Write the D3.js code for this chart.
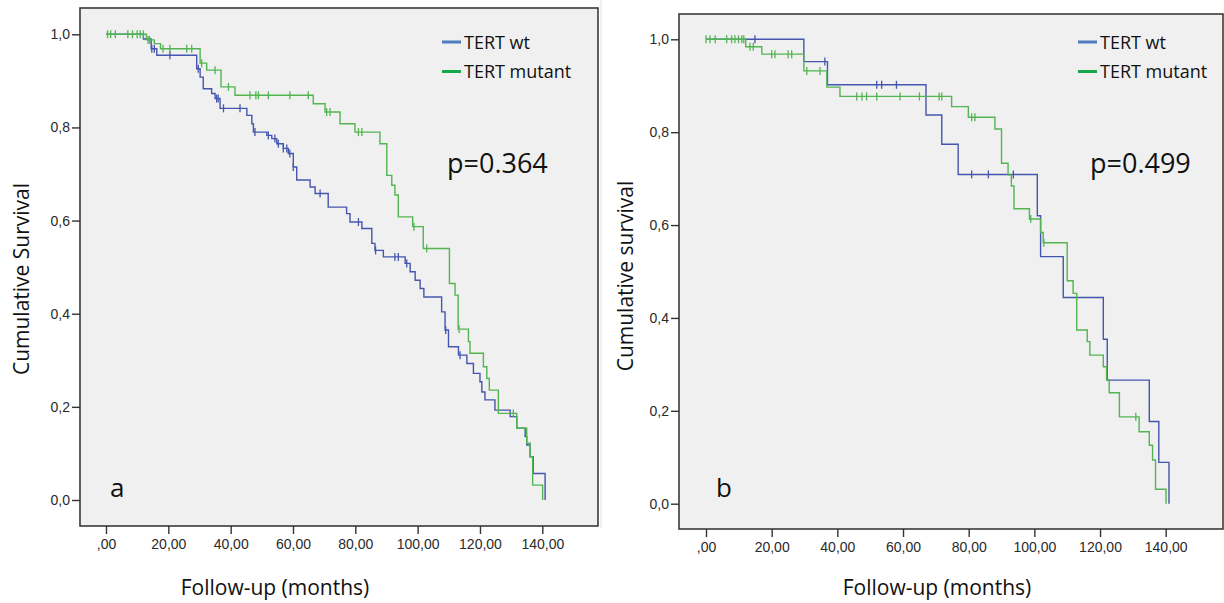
<!DOCTYPE html>
<html>
<head>
<meta charset="utf-8">
<script src="https://cdn.jsdelivr.net/npm/d3@7/dist/d3.min.js"></script>
<style>
  body { margin: 0; background: #fff; }
  svg text { font-family: "Open Sans", sans-serif; fill: #111; }
  .tick text { font-family: "Liberation Sans", Arial, sans-serif; font-size: 14px; fill: #2a2a2a; }
</style>
</head>
<body>
<svg id="sg"></svg>
<script>
// axis ticks
const timeTicks = [0, 20, 40, 60, 80, 100, 120, 140];
const timeTickLabels = [",00", "20,00", "40,00", "60,00", "80,00", "100,00", "120,00", "140,00"];
const survTicks = [0, 0.2, 0.4, 0.6, 0.8, 1.0];
const survTickLabels = ["0,0", "0,2", "0,4", "0,6", "0,8", "1,0"];
const seriesNames = ["TERT wt", "TERT mutant"];

// panel a - TERT wt (event times, survival after event, censored times)
const aWtTimes = [12, 14.5, 16.3, 29.1, 30.2, 31.2, 33.9, 35, 36.6, 45.2, 46.8, 47.3, 51.6, 53.2, 54.8, 56.9, 58.5, 60.1, 61.2, 65.5, 67.1, 71.3, 77.2, 78.3, 82.1, 85.3, 86.3, 89, 96, 97.6, 99.2, 100.8, 102, 107.7, 108.8, 109.9, 113.1, 115.8, 117.9, 120, 120.6, 121.6, 124.8, 129.7, 131.8, 134.5, 135, 136.1, 137.1, 140.9];
const aWtSurv = [0.99, 0.969, 0.955, 0.926, 0.908, 0.883, 0.873, 0.862, 0.841, 0.826, 0.808, 0.79, 0.783, 0.776, 0.765, 0.755, 0.744, 0.715, 0.687, 0.672, 0.658, 0.629, 0.615, 0.597, 0.583, 0.551, 0.536, 0.522, 0.508, 0.49, 0.472, 0.454, 0.436, 0.404, 0.365, 0.329, 0.311, 0.293, 0.272, 0.254, 0.232, 0.215, 0.193, 0.179, 0.154, 0.136, 0.118, 0.093, 0.057, 0];
const aWtCensored = [14.7, 15.5, 20.5, 29.6, 35.5, 36, 37.7, 43, 47.8, 52.1, 54.2, 55.3, 56.9, 58, 59, 60.1, 68.7, 81, 86.5, 92.7, 93.8, 96.5, 109, 113.6];

// panel a - TERT mutant
const aMutTimes = [13, 15.5, 17.5, 30.2, 32.3, 36.9, 41.4, 66.5, 70.3, 75.1, 79.9, 87.9, 90.1, 91.7, 92.7, 93.8, 98.4, 101.8, 110.2, 112, 113, 116.3, 116.8, 121.1, 122.2, 123, 125.9, 131.8, 135, 136.1, 136.9, 140.1];
const aMutSurv = [0.988, 0.98, 0.969, 0.938, 0.923, 0.887, 0.869, 0.851, 0.833, 0.808, 0.79, 0.765, 0.697, 0.676, 0.655, 0.608, 0.587, 0.54, 0.465, 0.44, 0.367, 0.34, 0.315, 0.286, 0.261, 0.236, 0.186, 0.154, 0.122, 0.093, 0.032, 0];
const aMutCensored = [0.5, 1.5, 3, 7, 8.5, 10, 11, 12, 13.5, 14, 18.3, 20.5, 25.9, 27.5, 30.7, 35, 39.3, 46.2, 48.1, 48.9, 52.1, 59, 64.9, 70.8, 71.9, 81, 82.1, 98.8, 102.9, 113.3, 130.7];

// panel b - TERT wt
const bWtTimes = [29.8, 37, 67, 71.8, 76.8, 100.9, 101.9, 108.8, 121, 122.2, 135, 137.9, 141];
const bWtSurv = [0.952, 0.902, 0.837, 0.774, 0.709, 0.62, 0.532, 0.444, 0.354, 0.266, 0.177, 0.089, 0];
const bWtCensored = [14.9, 36.2, 52, 53.5, 58, 80.9, 86, 93.6];

// panel b - TERT mutant
const bMutTimes = [12.1, 17, 29.8, 36.8, 40.8, 74.8, 79.9, 88, 90, 92, 93, 93.8, 98.5, 101.9, 102.7, 110, 111.8, 112.9, 116.1, 116.9, 121, 122, 122.8, 125.9, 131.9, 135, 136, 136.9, 140.1];
const bMutSurv = [0.984, 0.968, 0.932, 0.897, 0.877, 0.855, 0.832, 0.807, 0.733, 0.708, 0.684, 0.635, 0.613, 0.584, 0.562, 0.48, 0.453, 0.374, 0.349, 0.32, 0.295, 0.266, 0.239, 0.187, 0.155, 0.126, 0.094, 0.031, 0];
const bMutCensored = [0, 1.2, 2.8, 6.3, 7.8, 8.8, 9.9, 10.9, 11.5, 13.4, 14.4, 20, 21, 25, 26.1, 30.7, 34.7, 45.9, 47.5, 48.9, 52, 59.1, 65, 71, 71.8, 80.9, 81.9, 98.9, 102.9, 130.9];

const curveColors = ["#4456ad", "#52b552"];
const legendColors = ["#4f7bc0", "#14a84a"];

let svgWidth = 1224,
  svgHeight = 603;
let svg = d3.select("#sg").attr("width", svgWidth).attr("height", svgHeight);

// faint edge between the two pictures
svg.append("line")
  .attr("x1", 601).attr("x2", 601)
  .attr("y1", 0).attr("y2", 528)
  .attr("stroke", "#e2e2e2")
  .attr("stroke-width", 1);

function survAt(times, surv, t) {
  let v = 1;
  times.forEach(function(d, i) {
    if (d <= t) v = surv[i];
  });
  return v;
}

function drawPanel(p) {
  let x = d3.scaleLinear().domain([0, 140]).range(p.xRange);
  let y = d3.scaleLinear().domain([0, 1]).range(p.yRange);

  svg.append("rect")
    .attr("x", p.box[0])
    .attr("y", p.box[1])
    .attr("width", p.box[2] - p.box[0])
    .attr("height", p.box[3] - p.box[1])
    .attr("fill", "#f0f0f0")
    .attr("stroke", "#3a3a3a")
    .attr("stroke-width", 1.6);

  let yAxis = d3.axisLeft(y)
    .tickValues(survTicks)
    .tickFormat(function(d, i) { return survTickLabels[i]; })
    .tickSize(8)
    .tickPadding(2);
  let gy = svg.append("g")
    .attr("transform", "translate(" + p.box[0] + ",0)")
    .call(yAxis);
  gy.select(".domain").remove();

  let xAxis = d3.axisBottom(x)
    .tickValues(timeTicks)
    .tickFormat(function(d, i) { return timeTickLabels[i]; })
    .tickSize(8)
    .tickPadding(5);
  let gx = svg.append("g")
    .attr("transform", "translate(0," + p.box[3] + ")")
    .call(xAxis);
  gx.select(".domain").remove();
  svg.selectAll(".tick line").attr("stroke", "#333").attr("stroke-width", 1.4);

  let line = d3.line()
    .curve(d3.curveStepAfter)
    .x(function(d) { return x(d[0]); })
    .y(function(d) { return y(d[1]); });

  p.series.forEach(function(s, k) {
    let pts = [[0, 1]];
    s.times.forEach(function(t, i) { pts.push([t, s.surv[i]]); });
    svg.append("path")
      .datum(pts)
      .attr("fill", "none")
      .attr("stroke", curveColors[k])
      .attr("stroke-width", 1.4)
      .attr("d", line);
    svg.append("g")
      .selectAll("line")
      .data(s.censored)
      .enter()
      .append("line")
      .attr("x1", function(d) { return x(d); })
      .attr("x2", function(d) { return x(d); })
      .attr("y1", function(d) { return y(survAt(s.times, s.surv, d)) - 4; })
      .attr("y2", function(d) { return y(survAt(s.times, s.surv, d)) + 4; })
      .attr("stroke", curveColors[k])
      .attr("stroke-width", 1.3);
  });

  // legend
  seriesNames.forEach(function(name, k) {
    let ly = p.legend[1] + k * 29.5;
    svg.append("line")
      .attr("x1", p.legend[0]).attr("x2", p.legend[0] + 19)
      .attr("y1", ly).attr("y2", ly)
      .attr("stroke", legendColors[k])
      .attr("stroke-width", 3);
    svg.append("text")
      .attr("x", p.legend[0] + 22)
      .attr("y", ly + 6.5)
      .attr("font-size", 18)
      .text(name);
  });

  svg.append("text")
    .attr("x", p.pval[0]).attr("y", p.pval[1])
    .attr("font-size", 27)
    .text(p.pText);

  svg.append("text")
    .attr("x", p.tag[0]).attr("y", p.tag[1])
    .attr("font-size", 26)
    .text(p.tagText);

  svg.append("text")
    .attr("transform", "translate(" + p.yTitle[0] + "," + p.yTitle[1] + ") rotate(-90)")
    .attr("text-anchor", "middle")
    .attr("font-size", 21)
    .text(p.yTitleText);

  svg.append("text")
    .attr("x", p.xTitle[0]).attr("y", p.xTitle[1])
    .attr("text-anchor", "middle")
    .attr("font-size", 21)
    .text("Follow-up (months)");
}

drawPanel({
  box: [80, 8, 598, 526],
  xRange: [106, 542.3],
  yRange: [500, 34.3],
  series: [
    { times: aWtTimes, surv: aWtSurv, censored: aWtCensored },
    { times: aMutTimes, surv: aMutSurv, censored: aMutCensored }
  ],
  legend: [442, 42],
  pval: [447, 173],
  pText: "p=0.364",
  tag: [110, 497],
  tagText: "a",
  yTitle: [29, 279],
  yTitleText: "Cumulative Survival",
  xTitle: [275, 595]
});

drawPanel({
  box: [679, 14, 1223, 529],
  xRange: [706, 1165.7],
  yRange: [503.7, 39.3],
  series: [
    { times: bWtTimes, surv: bWtSurv, censored: bWtCensored },
    { times: bMutTimes, surv: bMutSurv, censored: bMutCensored }
  ],
  legend: [1078, 42],
  pval: [1090, 173],
  pText: "p=0.499",
  tag: [716, 497],
  tagText: "b",
  yTitle: [633, 276],
  yTitleText: "Cumulative survival",
  xTitle: [937, 595]
});
</script>
</body>
</html>
